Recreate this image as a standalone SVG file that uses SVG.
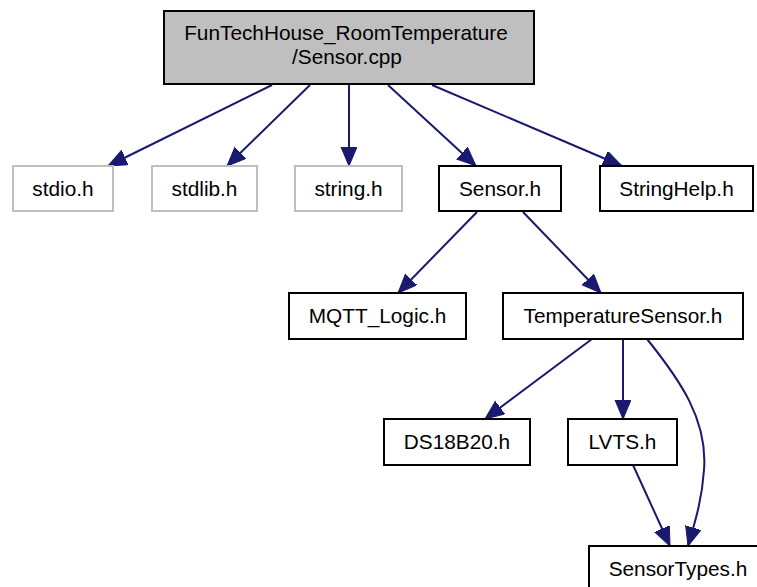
<svg xmlns="http://www.w3.org/2000/svg" width="757" height="587" viewBox="0 0 757 587">
<style>
.node rect{fill:#ffffff;stroke:#000000;stroke-width:2}
.node.gray rect{stroke:#bfbfbf}
.node.root rect{fill:#bfbfbf}
.node text{font-family:"Liberation Sans",Arial,Helvetica,sans-serif;font-size:20.8px;fill:#000000;text-anchor:middle}
.edges path{fill:none;stroke:#191970;stroke-width:2;marker-end:url(#arrow)}
</style>
<defs>
<marker id="arrow" markerUnits="userSpaceOnUse" markerWidth="21" markerHeight="18" refX="19" refY="8" orient="auto">
<path d="M0,0 L19,8 L0,16 z" fill="#191970" stroke="#191970" stroke-width="1"/>
</marker>
</defs>
<rect width="757" height="587" fill="#ffffff"/>
<g class="edges">
<path d="M272,85 L108,166"/>
<path d="M310,85 L227,166"/>
<path d="M349,85 L349,166"/>
<path d="M388,85 L476,166"/>
<path d="M432,85 L622,166"/>
<path d="M477,212 L398,293"/>
<path d="M523,212 L601,293"/>
<path d="M592,339 L485,419"/>
<path d="M623,339 L623,419"/>
<path d="M647,339 C680,380 708,420 704,470 C702,500 695,522 688,546"/>
<path d="M633,465 L670,546"/>
</g>
<g id="node-root" class="node root"><rect x="164" y="11" width="370" height="73"/><text x="346" y="40">FunTechHouse_RoomTemperature</text><text x="347" y="64">/Sensor.cpp</text></g>
<g id="node-stdio" class="node gray"><rect x="13" y="166" width="100" height="45"/><text x="63" y="196">stdio.h</text></g>
<g id="node-stdlib" class="node gray"><rect x="152" y="166" width="105" height="45"/><text x="204.5" y="196">stdlib.h</text></g>
<g id="node-string" class="node gray"><rect x="295" y="166" width="107" height="45"/><text x="348.5" y="196">string.h</text></g>
<g id="node-sensor" class="node"><rect x="439" y="166" width="122" height="45"/><text x="500" y="196">Sensor.h</text></g>
<g id="node-stringhelp" class="node"><rect x="600" y="166" width="153" height="45"/><text x="676.5" y="196">StringHelp.h</text></g>
<g id="node-mqtt" class="node"><rect x="289" y="293" width="177" height="46"/><text x="377.5" y="323">MQTT_Logic.h</text></g>
<g id="node-tempsensor" class="node"><rect x="503" y="293" width="240" height="46"/><text x="623" y="323">TemperatureSensor.h</text></g>
<g id="node-ds18b20" class="node"><rect x="384" y="419" width="146" height="46"/><text x="457" y="449">DS18B20.h</text></g>
<g id="node-lvts" class="node"><rect x="568" y="419" width="109" height="46"/><text x="622.5" y="449">LVTS.h</text></g>
<g id="node-sensortypes" class="node"><rect x="589" y="546" width="178" height="46"/><text x="678" y="576">SensorTypes.h</text></g>
</svg>
